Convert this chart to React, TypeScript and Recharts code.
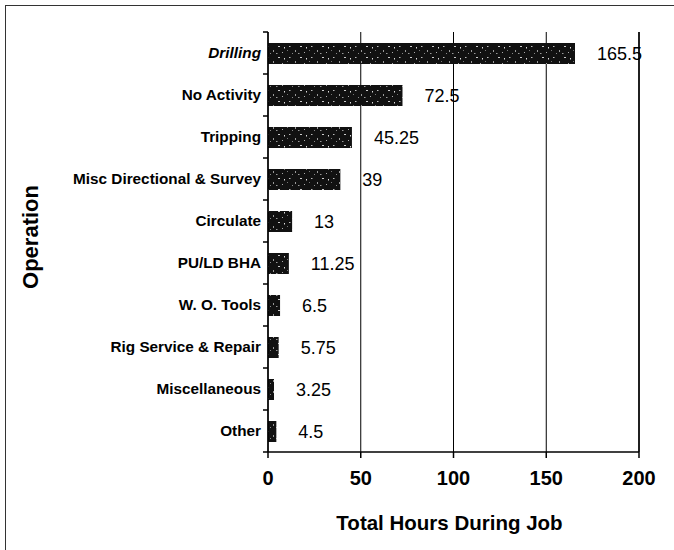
import { Bar, BarChart, CartesianGrid, LabelList, ReferenceLine, XAxis, YAxis } from "recharts";

const operations = [
  "Drilling",
  "No Activity",
  "Tripping",
  "Misc Directional & Survey",
  "Circulate",
  "PU/LD BHA",
  "W. O. Tools",
  "Rig Service & Repair",
  "Miscellaneous",
  "Other",
];
const hours = [165.5, 72.5, 45.25, 39, 13, 11.25, 6.5, 5.75, 3.25, 4.5];
const xTicks = [0, 50, 100, 150, 200];
const italicOps = ["Drilling"];

const data = operations.map((name, i) => ({ name, hours: hours[i] }));

const FONT = "'Liberation Sans', Arial, sans-serif";
const BAND = 42;

function OpTick(props: any) {
  const { x, y, payload, index } = props;
  const isLast = index === operations.length - 1;
  return (
    <g>
      <line x1={x - 5} x2={x} y1={y - BAND / 2} y2={y - BAND / 2} stroke="#000" strokeWidth={1.5} />
      {isLast && <line x1={x - 5} x2={x} y1={y + BAND / 2} y2={y + BAND / 2} stroke="#000" strokeWidth={1.5} />}
      <text
        x={x - 7}
        y={y + 5}
        textAnchor="end"
        fontFamily={FONT}
        fontWeight="bold"
        fontSize={15.3}
        fontStyle={italicOps.includes(payload.value) ? "italic" : "normal"}
        fill="#000"
      >
        {payload.value}
      </text>
    </g>
  );
}

export default function App() {
  return (
    <div style={{ position: "absolute", left: 0, top: 0, width: 674, height: 550, background: "#fff" }}>
      <svg width={0} height={0} style={{ position: "absolute" }}>
        <defs>
          <pattern id="speckle" width={22} height={11} patternUnits="userSpaceOnUse">
            <rect width={22} height={11} fill="#111" />
            <rect x={3} y={2} width={1.5} height={1} fill="#bbb" />
            <rect x={9} y={6} width={1} height={2} fill="#999" />
            <rect x={14} y={2} width={2} height={1} fill="#ccc" />
            <rect x={18} y={8} width={1} height={1} fill="#aaa" />
            <rect x={6} y={9} width={1} height={1} fill="#888" />
            <rect x={20} y={3} width={1} height={1.5} fill="#ddd" />
            <rect x={12} y={9} width={1.5} height={1} fill="#999" />
            <rect x={1} y={6} width={1} height={1} fill="#777" />
          </pattern>
        </defs>
      </svg>
      <div
        style={{
          position: "absolute",
          left: 5,
          top: 5,
          width: 669,
          height: 545,
          borderTop: "1.5px solid #333",
          borderLeft: "1.5px solid #333",
        }}
      />
      <div style={{ position: "absolute", left: 0, top: 0 }}>
        <BarChart
          width={674}
          height={550}
          data={data}
          layout="vertical"
          margin={{ top: 32, right: 35, left: 0, bottom: 0 }}
        >
          <CartesianGrid horizontal={false} stroke="#000" strokeWidth={1} />
          <XAxis
            type="number"
            dataKey="hours"
            domain={[0, 200]}
            ticks={xTicks}
            interval={0}
            height={98}
            tickSize={6}
            tickMargin={13}
            axisLine={{ stroke: "#000", strokeWidth: 1.5 }}
            tickLine={{ stroke: "#000", strokeWidth: 1.5 }}
            tick={{ fill: "#000", fontSize: 20, fontWeight: "bold", fontFamily: FONT }}
            label={{
              content: (p: any) => {
                const vb = p.viewBox;
                return (
                  <text
                    x={vb.x + vb.width / 2 - 4}
                    y={vb.y + 78}
                    textAnchor="middle"
                    fontFamily={FONT}
                    fontWeight="bold"
                    fontSize={20.5}
                    fill="#000"
                  >
                    Total Hours During Job
                  </text>
                );
              },
            }}
          />
          <XAxis
            xAxisId="top"
            orientation="top"
            type="number"
            domain={[0, 200]}
            height={0}
            tick={false}
            tickLine={false}
            axisLine={{ stroke: "#000", strokeWidth: 1.5 }}
          />
          <YAxis
            type="category"
            dataKey="name"
            width={268}
            interval={0}
            tickSize={0}
            tickMargin={0}
            tickLine={false}
            axisLine={{ stroke: "#000", strokeWidth: 1.5 }}
            tick={<OpTick />}
            label={{
              content: (p: any) => {
                const vb = p.viewBox;
                const cx = 30;
                const cy = vb.y + vb.height / 2 - 5;
                return (
                  <text
                    x={cx}
                    y={cy}
                    transform={`rotate(-90 ${cx} ${cy})`}
                    textAnchor="middle"
                    dominantBaseline="central"
                    fontFamily={FONT}
                    fontWeight="bold"
                    fontSize={22}
                    fill="#000"
                  >
                    Operation
                  </text>
                );
              },
            }}
          />
          <ReferenceLine x={200} stroke="#000" strokeWidth={1.5} />
          <Bar dataKey="hours" fill="url(#speckle)" barSize={21} isAnimationActive={false}>
            <LabelList
              dataKey="hours"
              position="right"
              offset={22}
              fill="#000"
              fontSize={18}
              fontFamily={FONT}
            />
          </Bar>
        </BarChart>
      </div>
    </div>
  );
}
